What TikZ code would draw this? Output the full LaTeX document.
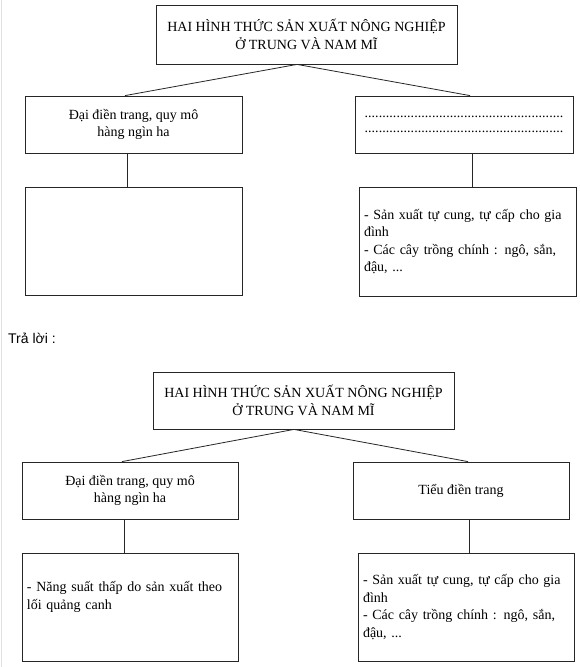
\documentclass[tikz,border=0pt]{standalone}
\usepackage{fontspec}
\setmainfont{Liberation Serif}
\setsansfont{Liberation Sans}
\newcommand{\bodysize}{\fontsize{14}{17.5}\selectfont}
\newcommand{\dotline}{\hbox to 199pt{\xleaders\hbox{.}\hfill}}

\tikzset{
    box/.style={draw=black!85, line width=0.8pt, inner sep=5pt, font=\bodysize},
    link/.style={draw=black!85, line width=0.8pt}
}

\begin{document}
\begin{tikzpicture}[x=1pt, y=-1pt]
    \useasboundingbox[fill=white] (0,0) rectangle (579,667);
    \draw[black!12] (1,0) -- (1,667);

    % question
    \node[box, minimum width=301, minimum height=59, align=center] (title1) at (306.5,34.5)
        {HAI HÌNH THỨC SẢN XUẤT NÔNG NGHIỆP\\Ở TRUNG VÀ NAM MĨ};
    \node[box, minimum width=217, minimum height=57, align=center] (farm1) at (133.5,124.5)
        {Đại điền trang, quy mô\\hàng ngìn ha};
    \node[box, minimum width=218, minimum height=57, align=center] (small1) at (464,124.5)
        {\dotline\\[-2.5pt]\dotline};
    \node[box, minimum width=217, minimum height=108] (field1) at (133.5,241) {};
    \node[box, minimum height=109, text width=207, align=left] (crop1) at (467.5,241.5)
        {- Sản xuất tự cung, tự cấp cho gia\\đình\\- Các cây trồng chính : ngô, sắn,\\đậu, ...};

    \draw[link] ([xshift=-9.5pt]title1.south) -- ([xshift=-8.5pt]farm1.north);
    \draw[link] ([xshift=-9.5pt]title1.south) -- ([xshift=6pt]small1.north);
    \draw[link] ([xshift=-6.5pt]farm1.south) -- ([xshift=-6.5pt]farm1.south |- field1.north);
    \draw[link] ([xshift=8pt]small1.south) -- ([xshift=8pt]small1.south |- crop1.north);

    \node[anchor=west, font=\sffamily\bodysize, inner sep=0pt] (answer) at (8,338) {Trả lời :};

    % answer
    \node[box, minimum width=301, minimum height=57, align=center] (title2) at (303.5,400.5)
        {HAI HÌNH THỨC SẢN XUẤT NÔNG NGHIỆP\\Ở TRUNG VÀ NAM MĨ};
    \node[box, minimum width=216, minimum height=57, align=center] (farm2) at (130,490.5)
        {Đại điền trang, quy mô\\hàng ngìn ha};
    \node[box, minimum width=216, minimum height=57, align=center] (small2) at (461,490.5)
        {Tiểu điền trang};
    \node[box, minimum height=108, text width=206, align=left] (field2) at (130,607)
        {- Năng suất thấp do sản xuất theo\\lối quảng canh\\ \strut};
    \node[box, minimum height=108, text width=206, align=left] (crop2) at (466,607)
        {- Sản xuất tự cung, tự cấp cho gia\\đình\\- Các cây trồng chính : ngô, sắn,\\đậu, ...};

    \draw[link] ([xshift=-9.5pt]title2.south) -- ([xshift=-8pt]farm2.north);
    \draw[link] ([xshift=-9.5pt]title2.south) -- ([xshift=7pt]small2.north);
    \draw[link] ([xshift=-6pt]farm2.south) -- ([xshift=-6pt]farm2.south |- field2.north);
    \draw[link] ([xshift=8pt]small2.south) -- ([xshift=8pt]small2.south |- crop2.north);
\end{tikzpicture}
\end{document}
